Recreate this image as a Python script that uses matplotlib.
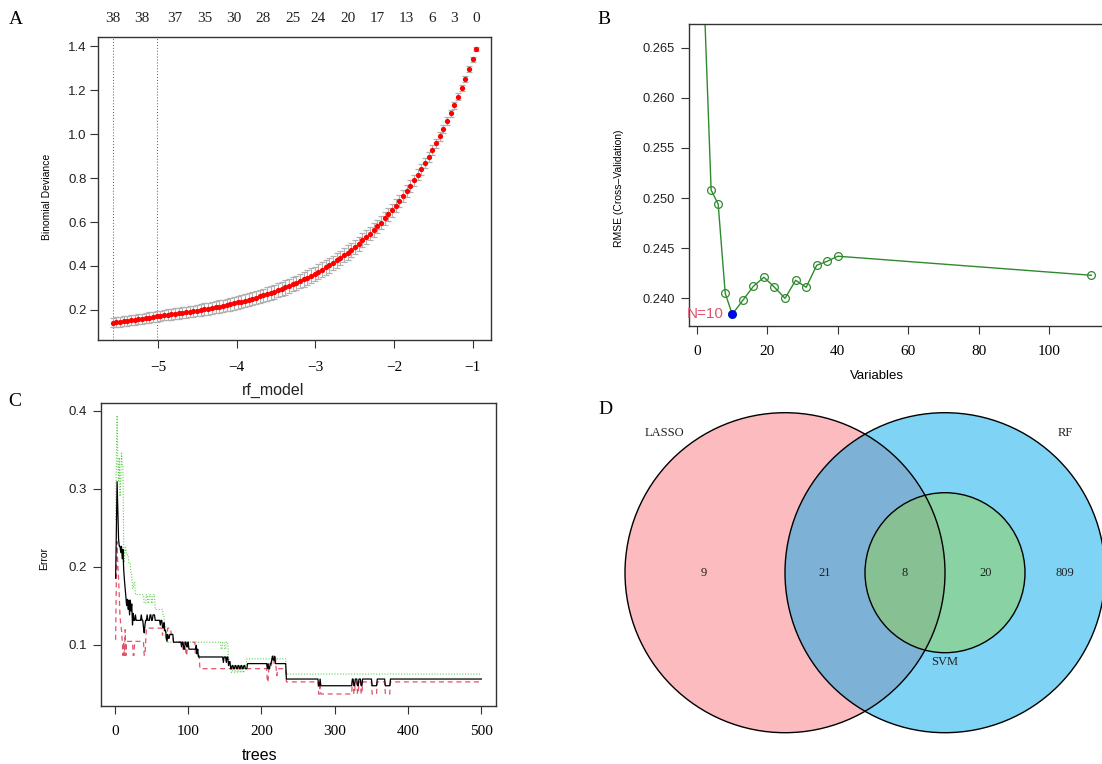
import numpy as np
import matplotlib
matplotlib.use("Agg")
import matplotlib.pyplot as plt
from matplotlib.patches import Circle

SANS = "Liberation Sans"
SERIF = "Liberation Serif"
plt.rcParams["font.family"] = SANS

# ---------------- Panel A data (LASSO CV curve) ----------------
log_lambda = [
    -5.580, -5.533, -5.486, -5.440, -5.393, -5.346, -5.299, -5.253, -5.206, -5.159,
    -5.112, -5.066, -5.019, -4.972, -4.925, -4.878, -4.832, -4.785, -4.738, -4.691,
    -4.645, -4.598, -4.551, -4.504, -4.458, -4.411, -4.364, -4.317, -4.270, -4.224,
    -4.177, -4.130, -4.083, -4.037, -3.990, -3.943, -3.896, -3.850, -3.803, -3.756,
    -3.709, -3.662, -3.616, -3.569, -3.522, -3.475, -3.429, -3.382, -3.335, -3.288,
    -3.242, -3.195, -3.148, -3.101, -3.054, -3.008, -2.961, -2.914, -2.867, -2.821,
    -2.774, -2.727, -2.680, -2.634, -2.587, -2.540, -2.493, -2.446, -2.400, -2.353,
    -2.306, -2.259, -2.213, -2.166, -2.119, -2.072, -2.026, -1.979, -1.932, -1.885,
    -1.838, -1.792, -1.745, -1.698, -1.651, -1.605, -1.558, -1.511, -1.464, -1.418,
    -1.371, -1.324, -1.277, -1.230, -1.184, -1.137, -1.090, -1.043, -0.997, -0.950]
deviance = [
    0.142, 0.144, 0.146, 0.148, 0.150, 0.153, 0.155, 0.157, 0.160, 0.162,
    0.165, 0.167, 0.170, 0.173, 0.176, 0.178, 0.180, 0.183, 0.185, 0.187,
    0.189, 0.192, 0.194, 0.197, 0.200, 0.203, 0.206, 0.209, 0.212, 0.215,
    0.219, 0.222, 0.226, 0.230, 0.234, 0.238, 0.242, 0.247, 0.251, 0.256,
    0.261, 0.266, 0.272, 0.277, 0.283, 0.289, 0.296, 0.302, 0.309, 0.316,
    0.323, 0.331, 0.339, 0.347, 0.356, 0.364, 0.374, 0.383, 0.393, 0.403,
    0.414, 0.425, 0.437, 0.449, 0.461, 0.474, 0.488, 0.502, 0.516, 0.531,
    0.547, 0.563, 0.580, 0.597, 0.616, 0.635, 0.654, 0.675, 0.696, 0.718,
    0.741, 0.764, 0.789, 0.815, 0.841, 0.869, 0.897, 0.927, 0.958, 0.990,
    1.024, 1.058, 1.094, 1.132, 1.170, 1.211, 1.252, 1.296, 1.341, 1.388]
deviance_se = [
    0.022, 0.022, 0.022, 0.022, 0.023, 0.023, 0.023, 0.023, 0.023, 0.023,
    0.024, 0.024, 0.024, 0.024, 0.024, 0.025, 0.025, 0.025, 0.025, 0.025,
    0.026, 0.026, 0.026, 0.026, 0.027, 0.027, 0.027, 0.027, 0.028, 0.028,
    0.028, 0.028, 0.029, 0.029, 0.029, 0.029, 0.030, 0.030, 0.030, 0.030,
    0.031, 0.031, 0.031, 0.031, 0.032, 0.032, 0.032, 0.032, 0.032, 0.032,
    0.033, 0.033, 0.033, 0.033, 0.033, 0.033, 0.033, 0.033, 0.033, 0.033,
    0.033, 0.033, 0.033, 0.033, 0.033, 0.032, 0.032, 0.032, 0.032, 0.032,
    0.031, 0.031, 0.031, 0.030, 0.030, 0.030, 0.029, 0.029, 0.028, 0.028,
    0.027, 0.027, 0.026, 0.025, 0.025, 0.024, 0.023, 0.022, 0.021, 0.020,
    0.019, 0.018, 0.017, 0.016, 0.015, 0.014, 0.013, 0.012, 0.011, 0.010]
nonzero_labels = ["38", "38", "37", "35", "30", "28", "25", "24", "20", "17", "13", "6", "3", "0"]
nonzero_label_index = [0, 8, 17, 25, 33, 41, 49, 56, 64, 72, 80, 87, 93, 99]
lambda_min_index = 0
lambda_1se_index = 12
a_xticks = [-5, -4, -3, -2, -1]
a_yticks = [0.2, 0.4, 0.6, 0.8, 1.0, 1.2, 1.4]

# ---------------- Panel B data (RFE RMSE) ----------------
n_variables = [2, 4, 6, 8, 10, 13, 16, 19, 22, 25, 28, 31, 34, 37, 40, 112]
rmse_cv = [0.2700, 0.2508, 0.2494, 0.2405, 0.2384, 0.2398, 0.2412, 0.2421,
           0.2411, 0.2400, 0.2418, 0.2411, 0.2433, 0.2437, 0.2442, 0.2423]
best_n = 10
b_xticks = [0, 20, 40, 60, 80, 100]
b_yticks = [0.240, 0.245, 0.250, 0.255, 0.260, 0.265]

# ---------------- Panel C data (random forest error vs trees) ----------------
n_trees = 500
oob_start = [1, 2, 3, 4, 5, 6, 8, 9, 10, 11, 12, 13, 14, 15, 16, 17, 18, 19, 20, 21,
             22, 23, 24, 25, 26, 28, 29, 36, 37, 39, 40, 41, 42, 44, 45, 48, 50, 52, 55, 62,
             63, 65, 67, 68, 70, 71, 72, 73, 75, 80, 91, 92, 94, 96, 98, 100, 101, 111, 112, 113,
             114, 148, 149, 152, 153, 155, 156, 158, 160, 162, 164, 166, 168, 170, 172, 174, 176, 178, 181, 208,
             209, 210, 212, 214, 215, 216, 218, 219, 234, 278, 280, 281, 324, 326, 328, 331, 333, 336, 338, 351,
             358, 369, 376]
oob_err = [0.185, 0.25, 0.309, 0.27, 0.235, 0.226, 0.218, 0.226, 0.21, 0.222, 0.196, 0.183, 0.172, 0.16, 0.150, 0.158, 0.145, 0.157, 0.138, 0.157,
           0.143, 0.152, 0.125, 0.14, 0.131, 0.138, 0.131, 0.138, 0.131, 0.122, 0.115, 0.125, 0.131, 0.138, 0.131, 0.138, 0.131, 0.138, 0.131, 0.125,
           0.131, 0.122, 0.128, 0.118, 0.112, 0.104, 0.113, 0.108, 0.113, 0.103, 0.097, 0.103, 0.094, 0.103, 0.097, 0.103, 0.094, 0.099, 0.088, 0.094,
           0.084, 0.077, 0.084, 0.077, 0.084, 0.073, 0.078, 0.069, 0.073, 0.069, 0.073, 0.069, 0.073, 0.069, 0.073, 0.069, 0.073, 0.069, 0.0755, 0.069,
           0.0755, 0.069, 0.0755, 0.080, 0.085, 0.080, 0.085, 0.0755, 0.0557, 0.0471, 0.0557, 0.0471, 0.0557, 0.0471, 0.0557, 0.0471, 0.0557, 0.0471, 0.0557, 0.0471,
           0.0557, 0.0471, 0.0557]
class1_start = [1, 2, 3, 4, 5, 6, 7, 8, 9, 10, 11, 12, 13, 14, 15, 16, 25, 27, 40, 42,
                43, 65, 66, 68, 70, 72, 77, 80, 93, 95, 97, 99, 110, 116, 208, 210, 214, 215, 217, 218,
                220, 221, 222, 234, 278, 280, 281, 324, 326, 328, 331, 333, 336, 338, 351, 358, 369, 376]
class1_err = [0.106, 0.185, 0.232, 0.2, 0.185, 0.16, 0.136, 0.125, 0.119, 0.104, 0.086, 0.104, 0.086, 0.119, 0.086, 0.104, 0.086, 0.104, 0.086, 0.104,
              0.121, 0.112, 0.121, 0.112, 0.104, 0.121, 0.112, 0.103, 0.094, 0.103, 0.086, 0.103, 0.086, 0.069, 0.052, 0.069, 0.078, 0.085, 0.076, 0.085,
              0.069, 0.060, 0.069, 0.052, 0.0365, 0.052, 0.0365, 0.052, 0.0365, 0.052, 0.0365, 0.052, 0.0365, 0.052, 0.0365, 0.052, 0.0365, 0.052]
class2_start = [1, 2, 3, 4, 5, 6, 7, 8, 9, 10, 12, 13, 14, 16, 19, 22, 24, 26, 28, 40,
                43, 45, 47, 50, 52, 55, 66, 68, 70, 72, 145, 147, 150, 152, 155, 157, 159, 161, 163, 165,
                167, 169, 171, 173, 175, 177, 180, 234]
class2_err = [0.26, 0.34, 0.394, 0.33, 0.31, 0.34, 0.29, 0.31, 0.347, 0.33, 0.226, 0.205, 0.224, 0.215, 0.205, 0.19, 0.172, 0.18, 0.164, 0.153,
              0.164, 0.153, 0.164, 0.153, 0.164, 0.145, 0.136, 0.125, 0.113, 0.103, 0.094, 0.103, 0.094, 0.103, 0.081, 0.072, 0.064, 0.072, 0.064, 0.072,
              0.064, 0.072, 0.064, 0.072, 0.064, 0.072, 0.0816, 0.0621]
c_xticks = [0, 100, 200, 300, 400, 500]
c_yticks = [0.1, 0.2, 0.3, 0.4]

# ---------------- Panel D data (Venn) ----------------
set_names = ["LASSO", "RF", "SVM"]
region_counts = {"LASSO_only": 9, "LASSO_RF": 21, "all": 8, "RF_SVM": 20, "RF_only": 809}


def expand_runs(starts, values, n):
    out = np.empty(n)
    bounds = list(starts) + [n + 1]
    for k, v in enumerate(values):
        out[bounds[k] - 1:bounds[k + 1] - 1] = v
    return out


W, H = 1102, 764
fig = plt.figure(figsize=(W / 100, H / 100), dpi=100)


def px_axes(l, t, r, b):
    return fig.add_axes([l / W, 1 - b / H, (r - l) / W, (b - t) / H])


def r_style(ax):
    for s in ax.spines.values():
        s.set_linewidth(1.0)
        s.set_color("#333333")
    ax.tick_params(direction="out", length=6, width=0.8, color="#333333")


# ---------------- A ----------------
axA = px_axes(98, 37, 491, 340)
r_style(axA)
axA.errorbar(log_lambda, deviance, yerr=deviance_se, fmt="none", ecolor="#b0b0b0",
             elinewidth=0.8, capsize=2.4, capthick=0.9, zorder=2)
axA.plot(log_lambda, deviance, "o", color="#ff0000", markersize=3.8, markeredgewidth=0, zorder=3)
for idx in (lambda_min_index, lambda_1se_index):
    axA.axvline(log_lambda[idx], color="#555555", lw=0.7, ls=(0, (1, 2)), zorder=1)
axA.set_xlim(-5.765, -0.765)
axA.set_ylim(0.063, 1.442)
axA.set_xticks(a_xticks)
axA.set_xticklabels([f"\u2212{abs(v)}" for v in a_xticks], family=SERIF, fontsize=11)
axA.set_yticks(a_yticks)
axA.set_yticklabels([f"{v:.1f}" for v in a_yticks], fontsize=9.5, color="#222222")
axA.tick_params(axis="x", pad=9)
axA.tick_params(axis="y", pad=2)
for lab, idx in zip(nonzero_labels, nonzero_label_index):
    axA.text(log_lambda[idx], 1.06, lab, transform=axA.get_xaxis_transform(),
             ha="center", va="center", family=SERIF, fontsize=11, color="#222222")
axA.set_ylabel("Binomial Deviance", fontsize=7.5)
axA.yaxis.set_label_coords((52 - 98) / 393, 0.473)
fig.text(273 / W, 1 - 390 / H, "rf_model", ha="center", va="center", fontsize=11.5, color="#222222")

# ---------------- B ----------------
axB = px_axes(688.6, 24.3, 1106.8, 326)
r_style(axB)
axB.spines["right"].set_visible(False)
green = "#2f8a2f"
axB.plot(n_variables, rmse_cv, "-o", color=green, lw=1.0, markersize=5.6,
         markerfacecolor="none", markeredgewidth=0.9, clip_on=True)
best_i = n_variables.index(best_n)
axB.plot([n_variables[best_i]], [rmse_cv[best_i]], "o", color="#0000ff", markersize=5.2, zorder=4)
axB.annotate(f"N={best_n}", (n_variables[best_i], rmse_cv[best_i]), xytext=(-6.5, 0),
             textcoords="offset points", ha="right", va="center", color="#df536b", fontsize=11)
axB.set_xlim(-2.4, 116.4)
axB.set_ylim(0.23724, 0.26733)
axB.set_xticks(b_xticks)
axB.set_xticklabels([str(v) for v in b_xticks], family=SERIF, fontsize=11)
axB.set_yticks(b_yticks)
axB.set_yticklabels([f"{v:.3f}" for v in b_yticks], fontsize=9.3, color="#222222")
axB.tick_params(axis="x", pad=8)
axB.tick_params(axis="y", pad=4)
axB.set_xlabel("Variables", fontsize=9.5)
axB.xaxis.set_label_coords(0.451, -(370 - 326) / 301.7)
axB.set_ylabel("RMSE (Cross\u2013Validation)", fontsize=7.5)
axB.yaxis.set_label_coords((624 - 688.6) / 418.2, 0.456)

# ---------------- C ----------------
axC = px_axes(101, 403.3, 496, 706)
r_style(axC)
trees = np.arange(1, n_trees + 1)
axC.plot(trees, expand_runs(class2_start, class2_err, n_trees), color="#61d04f", lw=0.8, ls=(0, (1, 1.5)))
axC.plot(trees, expand_runs(class1_start, class1_err, n_trees), color="#df536b", lw=0.9, ls=(0, (4, 3)))
axC.plot(trees, expand_runs(oob_start, oob_err, n_trees), color="black", lw=0.9)
axC.set_xlim(-18.96, 519.96)
axC.set_ylim(0.0211, 0.4095)
axC.set_xticks(c_xticks)
axC.set_xticklabels([str(v) for v in c_xticks], family=SERIF, fontsize=11)
axC.set_yticks(c_yticks)
axC.set_yticklabels([f"{v:.1f}" for v in c_yticks], fontsize=9.5, color="#222222")
axC.tick_params(axis="x", pad=8)
axC.tick_params(axis="y", pad=4)
axC.set_xlabel("trees", fontsize=11.5)
axC.xaxis.set_label_coords((260 - 101) / 395, -(748 - 706) / 302.7)
axC.set_ylabel("Error", fontsize=7.5)
axC.yaxis.set_label_coords((49 - 101) / 395, (706 - 558.3) / 302.7)

# ---------------- D ----------------
axD = px_axes(600, 400, 1102, 764)
axD.set_xlim(600, 1102)
axD.set_ylim(764, 400)
axD.axis("off")
circ = {"LASSO": ((785, 572.7), 160, "#f97981"),
        "RF": ((945, 572.7), 160, "#00abed"),
        "SVM": ((945, 572.7), 80, "#91d152")}
for name in set_names:
    c, r, col = circ[name]
    axD.add_patch(Circle(c, r, facecolor=col, alpha=0.5, edgecolor="none", zorder=1))
for name in set_names:
    c, r, col = circ[name]
    axD.add_patch(Circle(c, r, facecolor="none", edgecolor="black", lw=1.0, zorder=2))
name_pos = {"LASSO": (664, 433.3), "RF": (1065, 433.3), "SVM": (945, 662.3)}
for name in set_names:
    axD.text(*name_pos[name], name, ha="center", va="center", family=SERIF, fontsize=9, color="#222222")
count_pos = {"LASSO_only": (704, 572.7), "LASSO_RF": (824.3, 572.7), "all": (905, 572.7),
             "RF_SVM": (985.7, 572.7), "RF_only": (1065, 572.7)}
for key, val in region_counts.items():
    axD.text(*count_pos[key], str(val), ha="center", va="center", family=SERIF, fontsize=9, color="#222222")

# ---------------- panel letters ----------------
for letter, (x, y) in {"A": (16, 19), "B": (604, 19), "C": (15, 402), "D": (605, 410)}.items():
    fig.text(x / W, 1 - y / H, letter, ha="center", va="center", family=SERIF, fontsize=14)

fig.savefig("out.png", dpi=100)
